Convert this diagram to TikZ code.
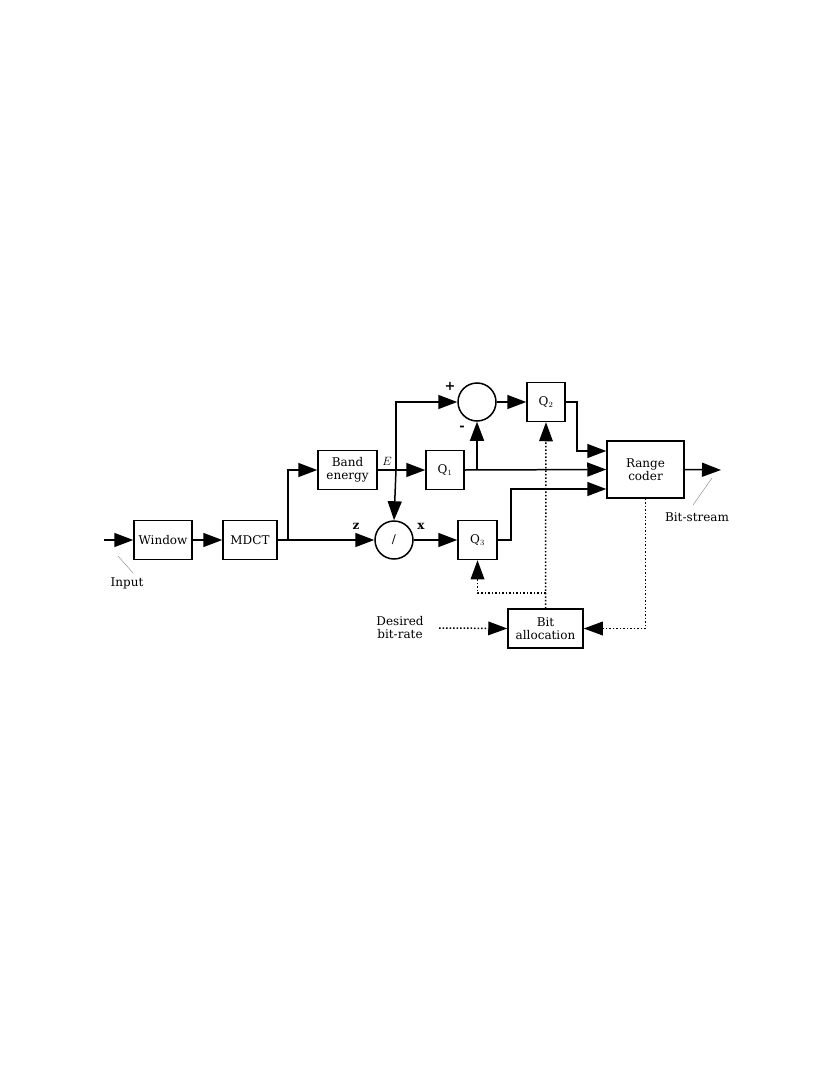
\documentclass[tikz,border=0pt]{standalone}
\usepackage{fontspec}
\setmainfont{DejaVu Serif}
\usetikzlibrary{arrows.meta}
\tikzset{
  blk/.style={draw,line width=1.5pt,inner sep=0pt,align=center,font=\fontsize{12}{13}\selectfont},
  sumc/.style={draw,circle,line width=1.5pt,minimum size=38pt,inner sep=0pt},
  sig/.style={line width=1.5pt,-{Triangle[length=19pt,width=14pt]}},
  ctl/.style={line width=1.5pt,dotted,-{Triangle[length=19pt,width=14pt,fill=black,line width=0pt]}},
  lbl/.style={font=\fontsize{12}{13}\selectfont,inner sep=0pt,align=center},
}
\begin{document}
\begin{tikzpicture}[line cap=butt,line join=miter,x=1pt,y=-1pt]
  \useasboundingbox (0,0) rectangle (830,1075);
  % blocks
  \node[blk,minimum width=58pt,minimum height=39pt] (win) at (163,540) {Window};
  \node[blk,minimum width=54pt,minimum height=39pt] (mdct) at (250,540) {MDCT};
  \node[blk,minimum width=59pt,minimum height=39pt] (band) at (347.5,470) {Band\\energy};
  \node[blk,minimum width=38pt,minimum height=39pt] (qa) at (445,470) {Q$_1$};
  \node[blk,minimum width=38pt,minimum height=39pt] (qb) at (546,402) {Q$_2$};
  \node[blk,minimum width=39pt,minimum height=39pt] (qc) at (477.5,540) {Q$_3$};
  \node[blk,minimum width=77pt,minimum height=57pt] (rc) at (645.5,469.5) {Range\\coder};
  \node[blk,minimum width=75pt,minimum height=39pt] (alloc) at (545.5,628.5) {Bit\\allocation};
  \node[sumc] (diff) at (477,402) {};
  \node[sumc,font=\fontsize{12}{13}\selectfont] (div) at (394,540) {/};
  % labels
  \coordinate (in) at (104,540);
  \coordinate (out) at (721,470);
  \coordinate (rate) at (439,628);
  \node[lbl] (inlbl) at (127,583) {Input};
  \node[lbl] (bslbl) at (697,517) {Bit-stream};
  \node[lbl] (ratelbl) at (400,628) {Desired\\bit-rate};
  \node[lbl] (elbl) at (387,461) {$E$};
  \node[lbl] (zlbl) at (356,526) {$\mathbf{z}$};
  \node[lbl] (xlbl) at (421,526) {$\mathbf{x}$};
  \node[lbl,font=\bfseries\fontsize{13}{13}\selectfont] (plbl) at (450,386) {+};
  \node[lbl,font=\bfseries\fontsize{13}{13}\selectfont] (mlbl) at (462,428) {-};
  \draw[line width=0.4pt,gray] (118,556) -- (133,573);
  \draw[line width=0.4pt,gray] (712,478) -- (693,505);
  % signal path
  \draw[sig] (in) -- (win);
  \draw[sig] (win) -- (mdct);
  \draw[sig] (mdct.east) -- (div.west);
  \draw[sig] (288,540) |- (band.west);
  \draw[sig] (band.east) -- (qa.west);
  \draw[sig] (396,470) -- (div.north);
  \draw[sig] (396,470) |- (diff.west);
  \draw[sig] (qa.east) -- (rc.west);
  \draw[sig] (diff.south |- qa.east) -- (diff.south);
  \draw[sig] (diff.east) -- (qb.west);
  \draw[sig] (qb.east) -| (577,451) -- (rc.west |- 0,451);
  \draw[sig] (div.east) -- (qc.west);
  \draw[sig] (qc.east) -| (511,489) -- (rc.west |- 0,489);
  \draw[sig] (rc.east) -- (out);
  % control path
  \draw[ctl] (rate) -- (alloc.west);
  \draw[ctl] (rc.south) |- (alloc.east);
  \draw[ctl] (alloc.north) -- (qb.south);
  \draw[ctl] (alloc.north |- 0,593) -| (qc.south);
\end{tikzpicture}
\end{document}
